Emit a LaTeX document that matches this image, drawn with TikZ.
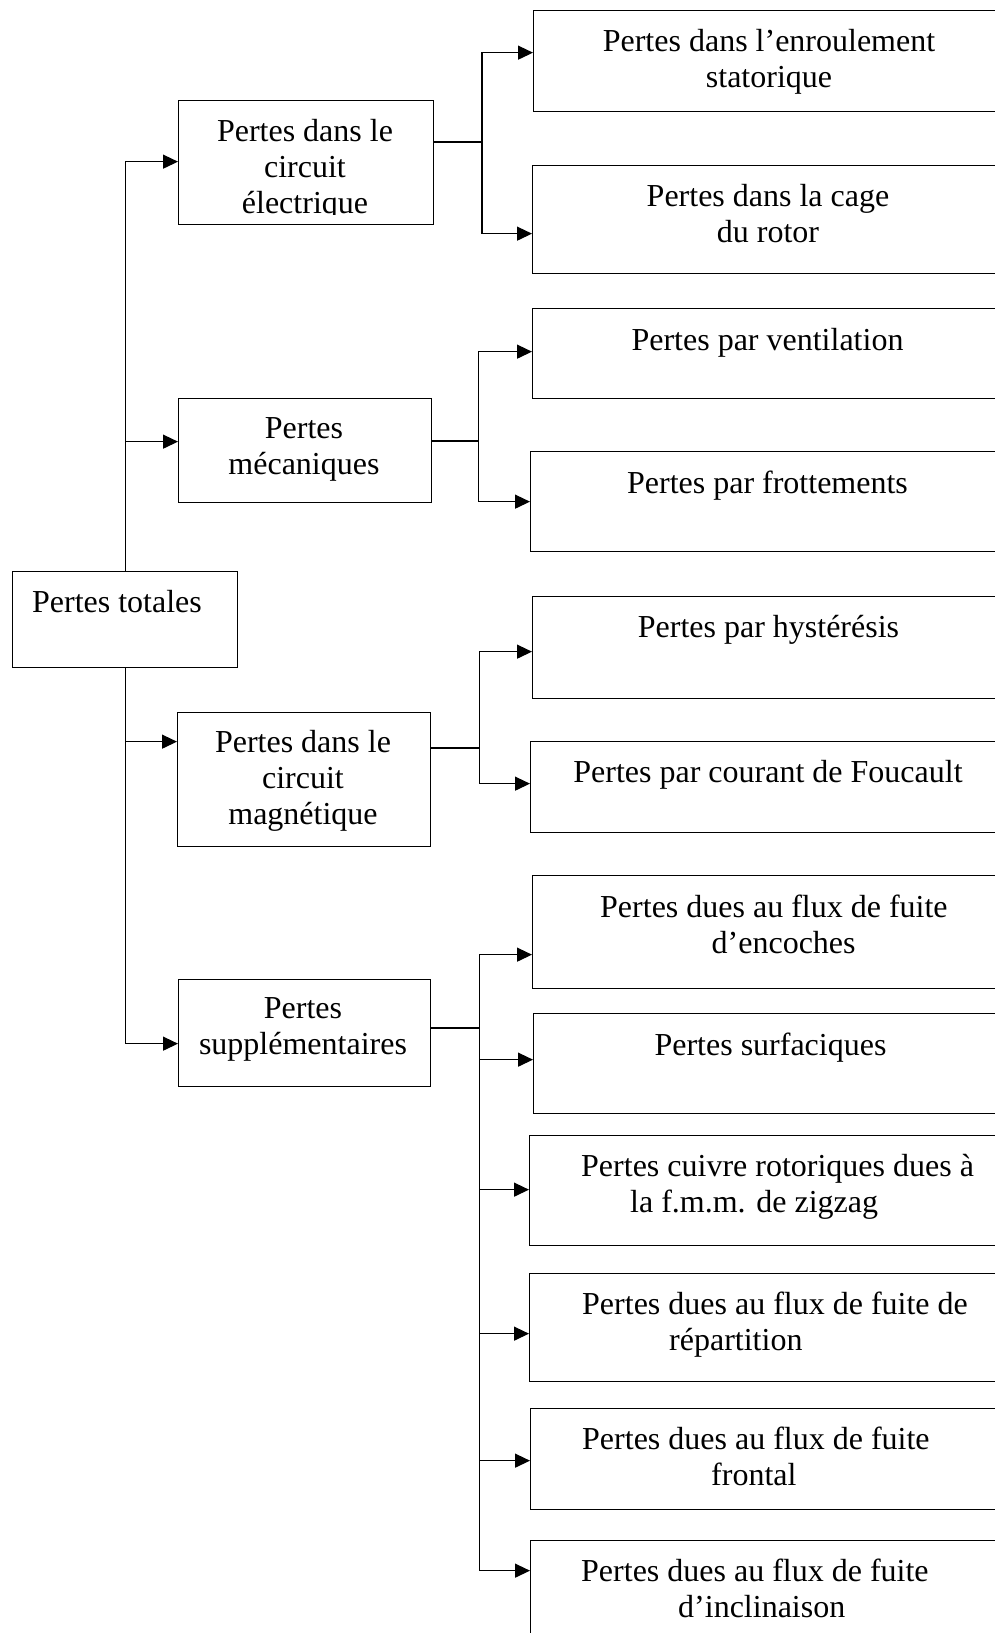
\documentclass[tikz,border=0pt]{standalone}
\usepackage{fontspec}
\setmainfont{Liberation Serif}
\usetikzlibrary{positioning, arrows.meta}

\begin{document}
\begin{tikzpicture}[x=1pt, y=-1pt,
    box/.style={draw, line width=1.3pt, anchor=north west, inner sep=0pt},
    txt/.style={font=\fontsize{32}{36}\selectfont, align=center, inner sep=0pt, anchor=north},
    txtl/.style={txt, align=left, anchor=north west},
    wire/.style={line width=1.3pt},
    arr/.style={wire, -{Triangle[length=15pt, width=14pt]}},
]
\useasboundingbox (0,0) rectangle (995,1633);
\clip (0,0) rectangle (995,1633);

% Root and first level
\node[box, minimum width=225pt, minimum height=96pt] (totales) at (12,571) {};
\node[box, minimum width=255pt, minimum height=124pt] (elec) at (178,100) {};
\node[box, minimum width=253pt, minimum height=104pt] (meca) at (178,398) {};
\node[box, minimum width=253pt, minimum height=134pt] (magn) at (177,712) {};
\node[box, minimum width=252pt, minimum height=107pt] (supp) at (178,979) {};

% Second level (right edge runs off the page)
\node[box, minimum width=480pt, minimum height=101pt] (enroul) at (533,10) {};
\node[box, minimum width=480pt, minimum height=108pt] (cage) at (532,165) {};
\node[box, minimum width=480pt, minimum height=90pt] (vent) at (532,308) {};
\node[box, minimum width=480pt, minimum height=100pt] (frott) at (530,451) {};
\node[box, minimum width=480pt, minimum height=102pt] (hyst) at (532,596) {};
\node[box, minimum width=480pt, minimum height=91pt] (fouc) at (530,741) {};
\node[box, minimum width=480pt, minimum height=113pt] (enc) at (532,875) {};
\node[box, minimum width=480pt, minimum height=100pt] (surf) at (533,1013) {};
\node[box, minimum width=480pt, minimum height=110pt] (cuiv) at (529,1135) {};
\node[box, minimum width=480pt, minimum height=108pt] (repart) at (529,1273) {};
\node[box, minimum width=480pt, minimum height=101pt] (front) at (530,1408) {};
\node[box, minimum width=480pt, minimum height=120pt] (incl) at (530,1540) {};

% Texts
\node[txt] (totales-t) at (117,590) {Pertes totales};
\begin{scope}
  \clip (elec.north west) rectangle ([yshift=11pt]elec.south east);
  \node[txt] (elec-t) at (305,119) {Pertes dans le\\circuit\\électrique};
\end{scope}
\node[txt] (meca-t) at (304,417) {Pertes\\mécaniques};
\node[txt] (magn-t) at (303,730) {Pertes dans le\\circuit\\magnétique};
\node[txt] (supp-t) at (303,997) {Pertes\\supplémentaires};

\node[txt] (enroul-t) at (769,29) {Pertes dans l’enroulement\\statorique};
\node[txt] (cage-t) at (768,184) {Pertes dans la cage\\du rotor};
\node[txt] (vent-t) at (767.5,328) {Pertes par ventilation};
\node[txt] (frott-t) at (767.5,471) {Pertes par frottements};
\node[txt] (hyst-t) at (768.5,615) {Pertes par hystérésis};
\node[txt] (fouc-t) at (768,760) {Pertes par courant de Foucault};
\node[txtl] (enc-t) at (600,895) {Pertes dues au flux de fuite\\\hspace*{111.5pt}d’encoches};
\node[txt] (surf-t) at (770.5,1033) {Pertes surfaciques};
\node[txtl] (cuiv-t) at (581,1154) {Pertes cuivre rotoriques dues à\\\hspace*{49pt}la f.m.m. de zigzag};
\node[txtl] (repart-t) at (582,1292) {Pertes dues au flux de fuite de\\\hspace*{87pt}répartition};
\node[txtl] (front-t) at (582,1427) {Pertes dues au flux de fuite\\\hspace*{129pt}frontal};
\node[txtl] (incl-t) at (581,1559) {Pertes dues au flux de fuite\\\hspace*{97pt}d’inclinaison};

% Trunk
\draw[arr] (totales.north) |- ([yshift=1pt]elec.west);
\draw[arr] (totales.north) |- ([yshift=9pt]meca.west);
\draw[arr] (totales.south) |- ([yshift=38pt]magn.west);
\draw[arr] (totales.south) |- ([yshift=-10.5pt]supp.west);

% Branches
\coordinate (b-elec) at (482,142);
\coordinate (b-meca) at (478.5,441);
\coordinate (b-magn) at (479.5,748);
\coordinate (b-supp) at (479.5,1028);

\draw[wire] (elec.east |- b-elec) -- (b-elec);
\draw[arr] (b-elec) |- ([yshift=8.5pt]enroul.west);
\draw[arr] (b-elec) |- ([yshift=-14pt]cage.west);

\draw[wire] (meca.east |- b-meca) -- (b-meca);
\draw[arr] (b-meca) |- ([yshift=2pt]vent.west);
\draw[arr] (b-meca) |- (frott.west);

\draw[wire] (magn.east |- b-magn) -- (b-magn);
\draw[arr] (b-magn) |- ([yshift=-4pt]hyst.west);
\draw[arr] (b-magn) |- ([yshift=3.5pt]fouc.west);

\draw[wire] (supp.east |- b-supp) -- (b-supp);
\draw[arr] (b-supp) |- ([yshift=-22.5pt]enc.west);
\draw[arr] (b-supp) |- ([yshift=4pt]surf.west);
\draw[arr] (b-supp) |- ([yshift=1pt]cuiv.west);
\draw[arr] (b-supp) |- ([yshift=-6pt]repart.west);
\draw[arr] (b-supp) |- ([yshift=-1.5pt]front.west);
\draw[arr] (b-supp) |- ([yshift=30pt]incl.west);
\end{tikzpicture}
\end{document}
